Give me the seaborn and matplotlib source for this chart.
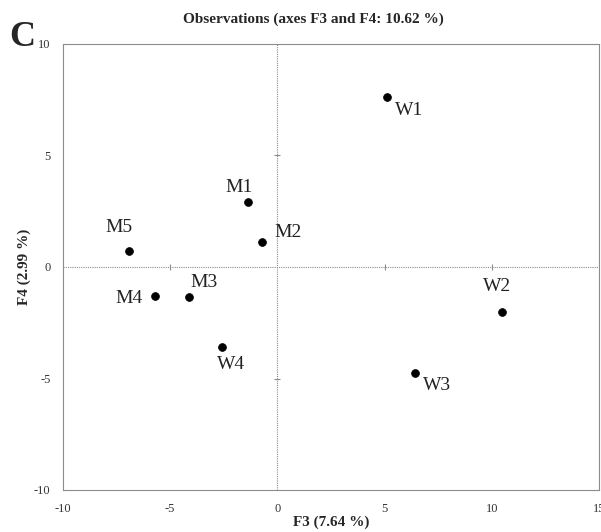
import matplotlib
matplotlib.use("Agg")
import matplotlib.pyplot as plt
import seaborn as sns
import pandas as pd

# ---- data ----
labels = ["W1", "W2", "W3", "W4", "M1", "M2", "M3", "M4", "M5"]
f3 = [5.12, 10.46, 6.40, -2.57, -1.39, -0.70, -4.10, -5.71, -6.94]
f4 = [7.61, -2.00, -4.77, -3.58, 2.93, 1.13, -1.36, -1.30, 0.73]
x_ticks = [-10, -5, 0, 5, 10, 15]
y_ticks = [-10, -5, 0, 5, 10]
title = "Observations (axes F3 and F4: 10.62 %)"
x_label = "F3 (7.64 %)"
y_label = "F4 (2.99 %)"
panel = "C"

# label offsets in pixels (dx, dy, ha, va)
label_layout = {
    "W1": (8, -13, "left", "center"),
    "W2": (-5, 25, "center", "center"),
    "W3": (8, -12, "left", "center"),
    "W4": (9, -18, "center", "center"),
    "M1": (-9, 14, "center", "center"),
    "M2": (12, 9, "left", "center"),
    "M3": (15, 15, "center", "center"),
    "M4": (-12, -3, "right", "center"),
    "M5": (-10, 23, "center", "center"),
}

df = pd.DataFrame({"F3": f3, "F4": f4, "label": labels})

sns.set_theme(style="white")
plt.rcParams["font.family"] = ["Liberation Serif", "DejaVu Serif"]
plt.rcParams["axes.unicode_minus"] = False

W, H = 601, 532
fig = plt.figure(figsize=(W / 100, H / 100), dpi=100)
ax = fig.add_axes([63 / W, 1 - 490 / H, 536 / W, 446 / H])

grey = "#8c8c8c"
ax.axhline(0, color=grey, lw=0.8, ls=(0, (1, 1)), zorder=1)
ax.axvline(0, color=grey, lw=0.8, ls=(0, (1, 1)), zorder=1)
# small cross-ticks on the centre lines
inner_x = [t for t in x_ticks if t not in (0, x_ticks[0], x_ticks[-1])]
inner_y = [t for t in y_ticks if t not in (0, y_ticks[0], y_ticks[-1])]
ax.scatter(inner_x, [0] * len(inner_x), marker="|", s=25, color=grey, lw=0.8, zorder=1)
ax.scatter([0] * len(inner_y), inner_y, marker="_", s=25, color=grey, lw=0.8, zorder=1)

sns.scatterplot(data=df, x="F3", y="F4", ax=ax, color="black", s=32,
                edgecolor="black", linewidth=0.5, zorder=3, legend=False)

for lab, x, y in zip(labels, f3, f4):
    dx, dy, ha, va = label_layout[lab]
    ax.annotate(lab, (x, y), xytext=(dx, dy), textcoords="offset pixels",
                ha=ha, va=va, fontsize=14, color="#222222")

ax.set_xlim(x_ticks[0], x_ticks[-1])
ax.set_ylim(y_ticks[0], y_ticks[-1])
ax.set_xticks(x_ticks)
ax.set_yticks(y_ticks)
ax.tick_params(axis="both", length=0, labelsize=9, pad=9, colors="#333333")
for s in ax.spines.values():
    s.set_color(grey)
    s.set_linewidth(0.8)
    s.set_linestyle((0, (1, 1)))

ax.set_xlabel(x_label, fontsize=11, fontweight="bold", labelpad=1)
ax.set_ylabel(y_label, fontsize=11, fontweight="bold", labelpad=2)

fig.text(313 / W, 1 - 19 / H, title, ha="center", va="center",
         fontsize=11, fontweight="bold")
fig.text(22 / W, 1 - 37 / H, panel, ha="center", va="center",
         fontsize=26, fontweight="bold")

fig.savefig("out.png", dpi=100)
